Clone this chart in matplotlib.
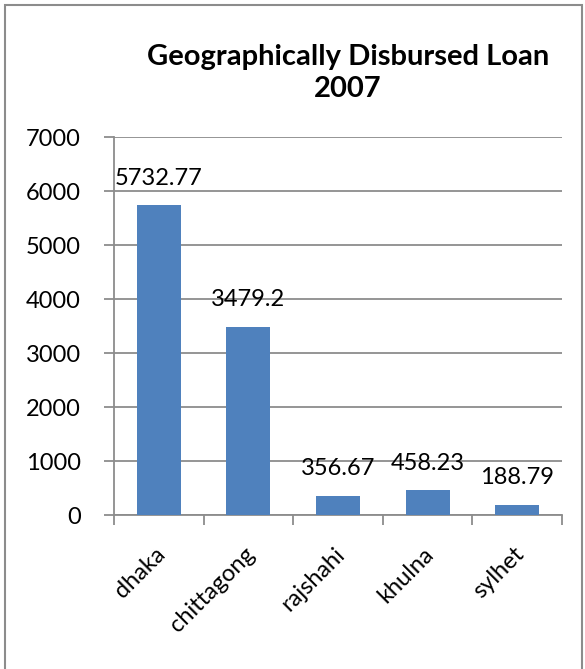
import matplotlib.pyplot as plt
from matplotlib.patches import Rectangle
from matplotlib.transforms import ScaledTranslation

# disbursed loan by division, 2007
regions = ["dhaka", "chittagong", "rajshahi", "khulna", "sylhet"]
loans = [5732.77, 3479.2, 356.67, 458.23, 188.79]
value_labels = ["5732.77", "3479.2", "356.67", "458.23", "188.79"]
yticks = [0, 1000, 2000, 3000, 4000, 5000, 6000, 7000]

plt.rcParams['font.family'] = ['Lato', 'DejaVu Sans']
FS = 17
GRAY = '#8c8c8c'

W, H = 585, 669
fig = plt.figure(figsize=(W / 100, H / 100), dpi=100)

# outer chart frame (runs off the bottom edge)
fig.patches.append(Rectangle((5 / W, -0.05), (W - 8) / W, 1.05 - 5 / H,
                             transform=fig.transFigure, fill=False,
                             edgecolor=GRAY, linewidth=1.5))

ax = fig.add_axes([114 / W, 1 - 515 / H, (562 - 114) / W, (515 - 137) / H])

xpos = range(len(regions))
ax.bar(xpos, loans, width=0.49, color='#4f81bd', zorder=3)

for x, v, lab in zip(xpos, loans, value_labels):
    ax.annotate(lab, (x, v), xytext=(0, 12), textcoords='offset points',
                ha='center', va='bottom', fontsize=FS)

ax.set_xlim(-0.5, len(regions) - 0.5)
ax.set_ylim(0, 7000)
ax.set_yticks(yticks)
ax.set_yticklabels([str(t) for t in yticks], fontsize=FS)
ax.yaxis.grid(True, color=GRAY, linewidth=1.3, zorder=0)
ax.tick_params(axis='y', length=7, width=1.3, color=GRAY, pad=17)

# category labels between boundary tick marks
ax.set_xticks([i - 0.5 for i in range(len(regions) + 1)], minor=False)
ax.set_xticklabels([])
ax.set_xticks(list(xpos), minor=True)
ax.set_xticklabels(regions, minor=True, rotation=45, ha='right', va='center',
                   rotation_mode='anchor', fontsize=FS)
ax.tick_params(axis='x', which='major', length=7, width=1.3, color=GRAY)
ax.tick_params(axis='x', which='minor', length=0, pad=26)
shift = ScaledTranslation(3 / 100, 0, fig.dpi_scale_trans)
for lbl in ax.get_xticklabels(minor=True):
    lbl.set_transform(lbl.get_transform() + shift)

for s in ['top', 'right']:
    ax.spines[s].set_visible(False)
for s in ['left', 'bottom']:
    ax.spines[s].set_color(GRAY)
    ax.spines[s].set_linewidth(1.3)

fig.text(348 / W, 1 - 73 / H, "Geographically Disbursed Loan\n2007",
         ha='center', va='center', fontsize=21, fontweight='bold',
         linespacing=1.3)

fig.savefig("out.png", dpi=100)
